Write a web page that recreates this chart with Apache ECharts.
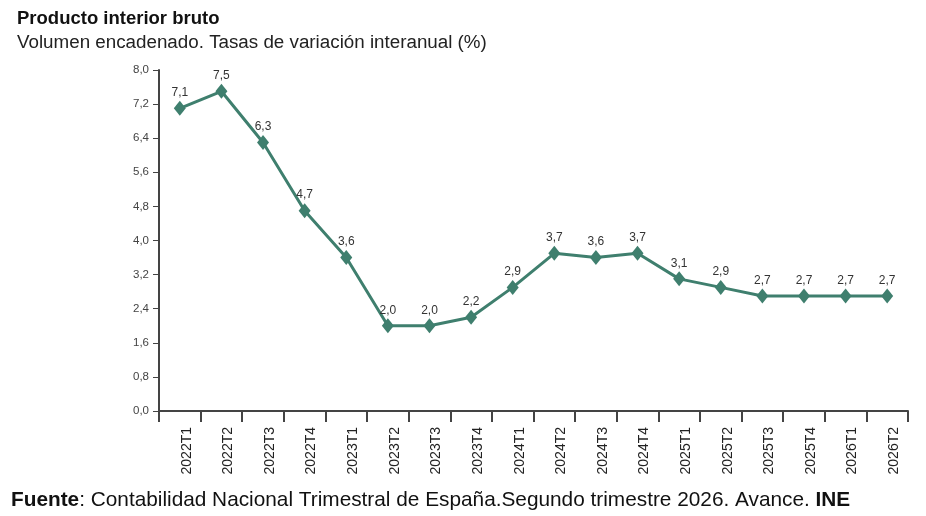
<!DOCTYPE html>
<html>
<head>
<meta charset="utf-8">
<script src="https://cdn.jsdelivr.net/npm/echarts@6/dist/echarts.min.js"></script>
<style>
  html, body { margin: 0; padding: 0; background: #fff; }
  #chart { width: 926px; height: 516px; }
</style>
</head>
<body>
<div id="chart"></div>
<script>
// quarters and GDP year-on-year change (%)
const quarters = [
  "2022T1", "2022T2", "2022T3", "2022T4",
  "2023T1", "2023T2", "2023T3", "2023T4",
  "2024T1", "2024T2", "2024T3", "2024T4",
  "2025T1", "2025T2", "2025T3", "2025T4",
  "2026T1", "2026T2"
];
const pibValues = [7.1, 7.5, 6.3, 4.7, 3.6, 2.0, 2.0, 2.2, 2.9, 3.7, 3.6, 3.7, 3.1, 2.9, 2.7, 2.7, 2.7, 2.7];

const fmt = (v) => v.toFixed(1).replace(".", ",");
const font = "Liberation Sans, Arial, sans-serif";

const chart = echarts.init(document.getElementById("chart"), null, { renderer: "canvas" });

const option = {
  animation: false,
  textStyle: { fontFamily: font },
  title: [
    {
      text: "Producto interior bruto",
      left: 12,
      top: 4,
      textStyle: { fontSize: 18.5, fontWeight: "bold", color: "#111", fontFamily: font }
    },
    {
      text: "Volumen encadenado. Tasas de variación interanual (%)",
      left: 12,
      top: 28,
      textStyle: { fontSize: 18.8, fontWeight: "normal", color: "#222", fontFamily: font }
    },
    {
      text: "{b|Fuente}: Contabilidad Nacional Trimestral de España.Segundo trimestre 2026. Avance. {b|INE}",
      left: 6,
      top: 485,
      textStyle: {
        fontSize: 20.8,
        fontWeight: "normal",
        color: "#111",
        fontFamily: font,
        rich: {
          b: { fontSize: 20.8, fontWeight: "bold", color: "#111", fontFamily: font }
        }
      }
    }
  ],
  grid: { left: 159, right: 18, top: 70, bottom: 105 },
  xAxis: {
    type: "category",
    data: quarters,
    boundaryGap: true,
    axisLine: { lineStyle: { color: "#444", width: 2 } },
    axisTick: { show: true, length: 11, lineStyle: { color: "#444", width: 2 } },
    axisLabel: {
      rotate: 90,
      margin: 16,
      fontSize: 14,
      color: "#222",
      fontFamily: font,
      verticalAlign: "top"
    }
  },
  yAxis: {
    type: "value",
    min: 0,
    max: 8,
    interval: 0.8,
    splitLine: { show: false },
    axisLine: { show: true, lineStyle: { color: "#444", width: 2 } },
    axisTick: { show: true, length: 6, lineStyle: { color: "#444" } },
    axisLabel: {
      fontSize: 11.5,
      color: "#444",
      margin: 10,
      fontFamily: font,
      formatter: (v) => fmt(v)
    }
  },
  series: [
    {
      type: "line",
      data: pibValues,
      symbol: "diamond",
      symbolSize: [12, 15],
      lineStyle: { color: "#3f7f6e", width: 3 },
      itemStyle: { color: "#3f7f6e" },
      label: {
        show: true,
        position: "top",
        distance: 2,
        fontSize: 12,
        color: "#333",
        fontFamily: font,
        formatter: (p) => fmt(p.value)
      }
    }
  ]
};

chart.setOption(option);
</script>
</body>
</html>
